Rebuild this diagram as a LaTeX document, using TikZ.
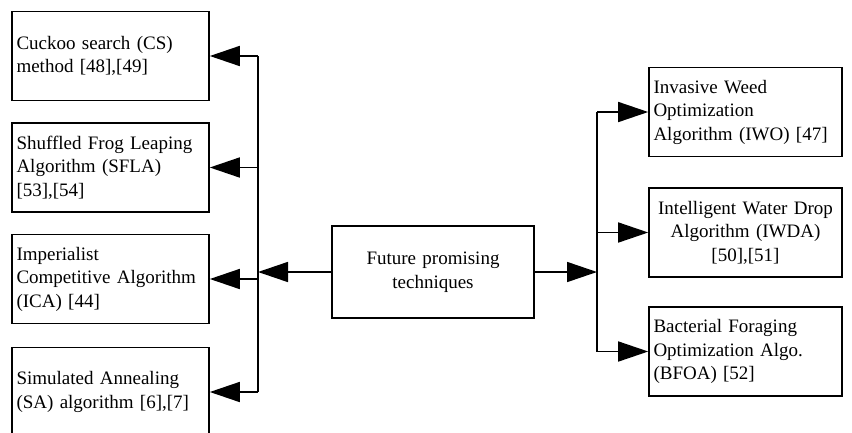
\documentclass[tikz,border=0pt]{standalone}
\usepackage{fontspec}
\setmainfont{Liberation Serif}
\usetikzlibrary{arrows.meta}

\begin{document}
\begin{tikzpicture}[x=1pt,y=-1pt,
    algbox/.style={draw, line width=1.6pt, minimum height=89pt, text width=188pt,
        inner xsep=4.5pt, align=left, font=\fontsize{19}{23.5}\selectfont},
    rbox/.style={algbox, text width=184pt, inner xsep=4.5pt},
    arr/.style={line width=1.6pt, -{Triangle[length=30pt,width=20pt]}}]
        \clip (0,0) rectangle (852,432);
        % left column
        \node[algbox] (cs) at (110.5,56) {Cuckoo search (CS)\\method [48],[49]};
        \node[algbox] (sfla) at (110.5,167.5) {Shuffled Frog Leaping\\Algorithm (SFLA)\\{[53],[54]}};
        \node[algbox] (ica) at (110.5,279) {Imperialist\\Competitive Algorithm\\(ICA) [44]};
        \node[algbox] (sa) at (110.5,392) {Simulated Annealing\\(SA) algorithm [6],[7]};
        % centre
        \node[algbox, text width=193pt, minimum height=92pt, align=center] (fut) at (433,272) {Future promising\\techniques};
        % right column
        \node[rbox] (iwo) at (745.5,112) {Invasive Weed\\Optimization\\Algorithm (IWO) [47]};
        \node[rbox, align=center] (iwda) at (745.5,232.5) {Intelligent Water Drop\\Algorithm (IWDA)\\{[50],[51]}};
        \node[rbox] (bfoa) at (745.5,351.5) {Bacterial Foraging\\Optimization Algo.\\(BFOA) [52]};
        \coordinate (lbus) at (258,0);
        \coordinate (rbus) at (597,0);
        \draw[line width=1.6pt] (cs.east -| lbus) -- (sa.east -| lbus);
        \foreach \n in {cs, sfla, ica, sa} {
            \draw[arr] (\n.east -| lbus) -- (\n.east);
        }
        \draw[arr] (fut.west) -- (fut.west -| lbus);
        \draw[line width=1.6pt] (iwo.west -| rbus) -- (bfoa.west -| rbus);
        \foreach \n in {iwo, iwda, bfoa} {
            \draw[arr] (\n.west -| rbus) -- (\n.west);
        }
        \draw[arr] (fut.east) -- (fut.east -| rbus);
\end{tikzpicture}
\end{document}
